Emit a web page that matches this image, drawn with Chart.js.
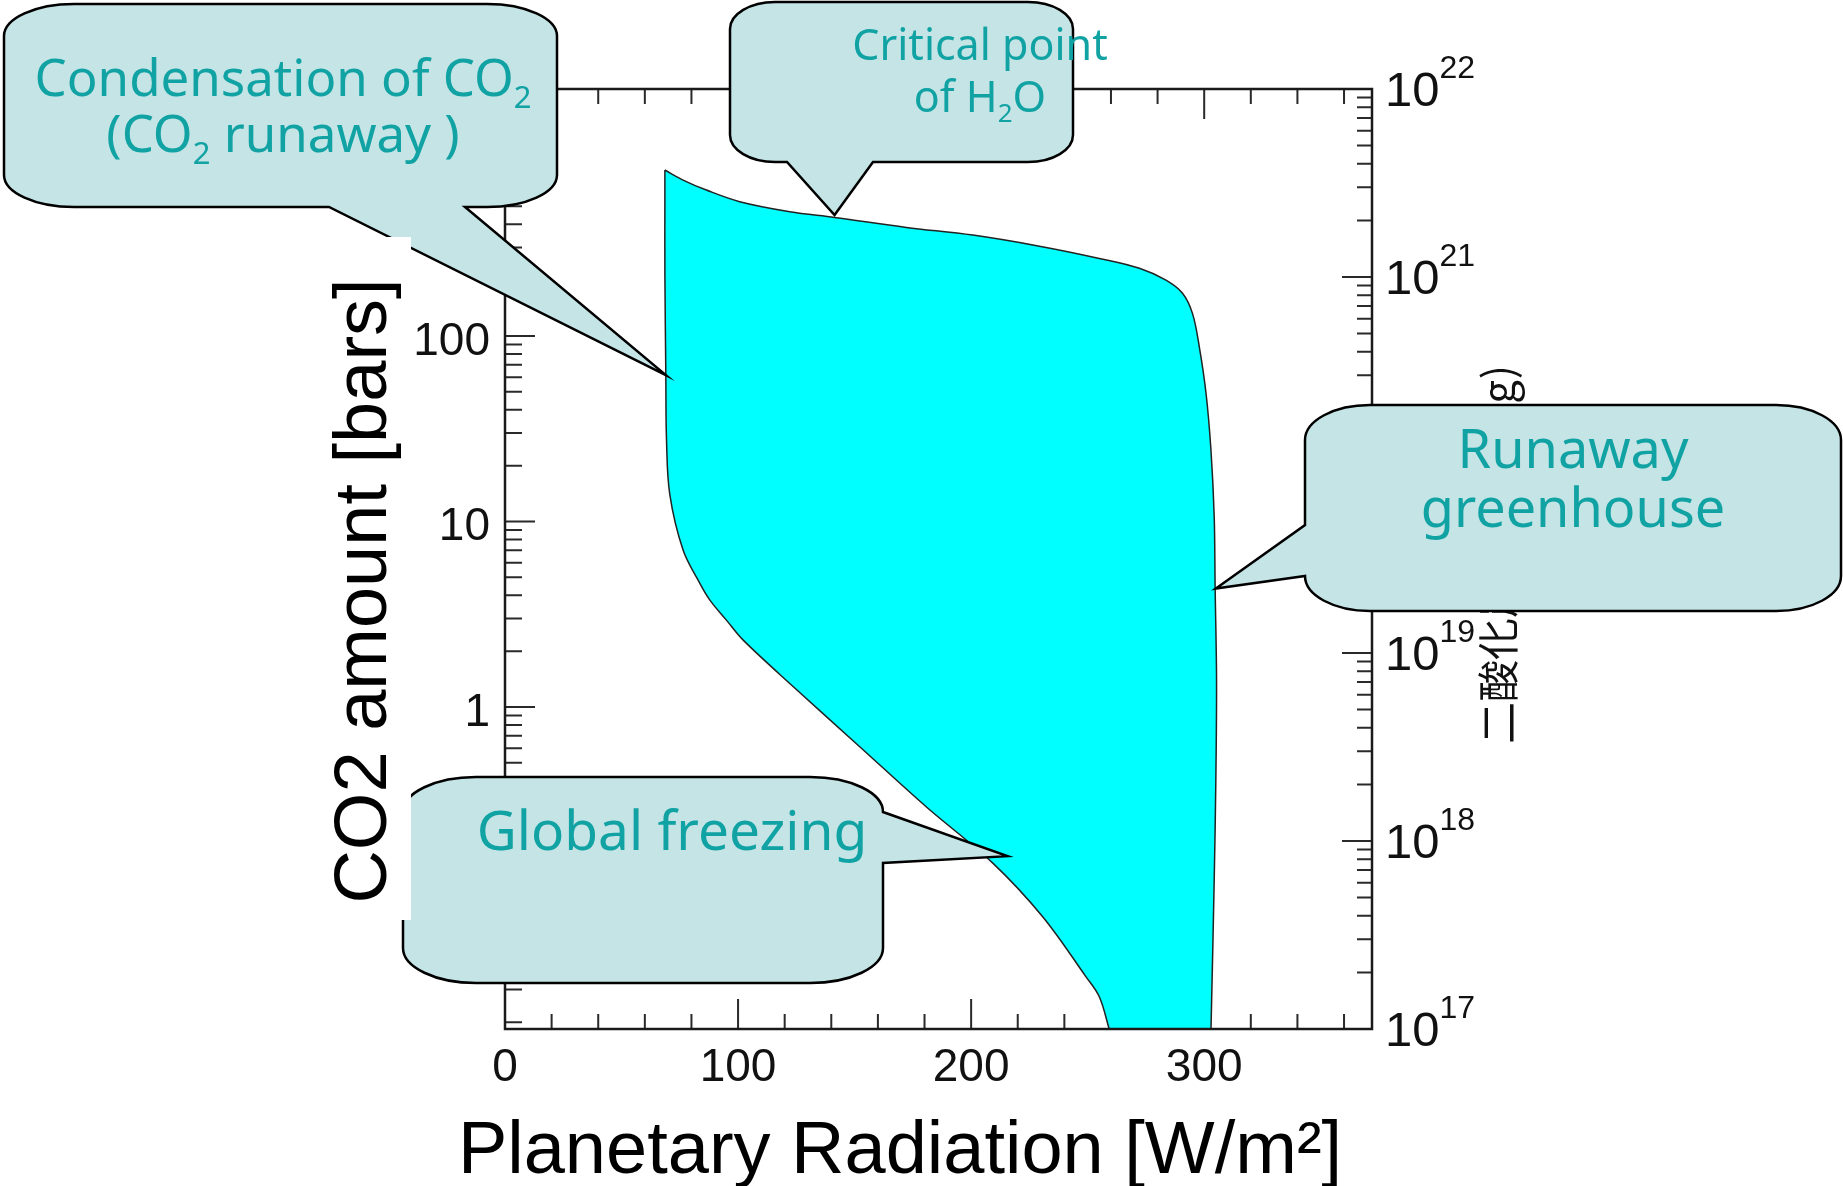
<!DOCTYPE html>
<html>
<head>
<meta charset="utf-8">
<title>CO2 amount vs planetary radiation</title>
<script src="https://cdn.jsdelivr.net/npm/chart.js@4.4.1/dist/chart.umd.min.js"></script>
<style>
  html, body { margin: 0; padding: 0; background: #fff; }
  #chart { display: block; }
</style>
</head>
<body>
<canvas id="chart" width="1843" height="1186"></canvas>
<script>
// Habitable region boundary (x: W/m2, y: bars)
// traced clockwise starting at the upper-left corner
const topEdgeX = [68.6, 76.4, 86.4, 100.7, 122.2, 141.4, 172.2, 200.7, 229.3, 255, 272.2, 283.6, 290.7, 295, 297.9];
const topEdgeY = [785, 693, 612, 530, 468, 436, 385, 350, 305, 262, 232, 200, 170, 132, 87.5];
const rightEdgeX = [300.8, 302.9, 304.3, 304.7, 305.3, 305.0, 304.3, 303.2, 302.9];
const rightEdgeY = [49, 24.3, 10.6, 4.36, 1.4, 0.404, 0.117, 0.0263, 0.0179];
const lowerEdgeX = [259.5, 255, 249.3, 230.7, 209.3, 180.7, 152.2, 123.6, 102.1, 95, 87.9, 83.6, 76.4, 70.7, 69.3, 69.0, 68.6, 68.6, 68.6];
const lowerEdgeY = [0.0179, 0.0274, 0.0351, 0.074, 0.144, 0.29, 0.611, 1.29, 2.30, 2.94, 3.77, 4.64, 7.02, 14, 27.5, 63, 218, 541, 785];

// Axes
const xRange = [0, 372];
const xTicks = [0, 100, 200, 300];
const barRange = [0.01837, 2146];
const barTicks = [0.1, 1, 10, 100, 1000];
const kgRange = [1e17, 1e22];
const kgExponents = [17, 18, 19, 20, 21, 22];

const xTitle = 'Planetary Radiation [W/m²]';
const yTitle = 'CO2 amount [bars]';
const y2Title = '二酸化炭素の量 (kg)';

// Bubble texts ([text, isSubscript] runs per line) and the point (W/m2, bars) each bubble points at
const condensationText = [[['Condensation of CO', 0], ['2', 1]], [['(CO', 0], ['2', 1], [' runaway )', 0]]];
const criticalText = [[['Critical point', 0]], [['of H', 0], ['2', 1], ['O', 0]]];
const runawayText = [[['Runaway', 0]], [['greenhouse', 0]]];
const freezingText = [[['Global freezing', 0]]];
const condensationTip = [69, 61.6];
const criticalTip = [141.4, 449];
const runawayTip = [305, 4.35];
const freezingTip = [215.6, 0.157];

const AXIS_FONT = '"Liberation Sans", Arial, Helvetica, sans-serif';
const NOTE_FONT = '"Noto Sans", "Open Sans", sans-serif';
const CJK_FONT = '"Noto Sans CJK JP", "Noto Sans CJK SC", sans-serif';
const TEAL = '#11a2a3';
const BUBBLE = '#c4e4e6';

// build the closed outline; corners on the bottom axis are repeated
// so the curve smoothing keeps them sharp
const outline = [];
function addEdge(xs, ys, sharpStart, sharpEnd) {
  xs.forEach((v, i) => {
    const p = { x: v, y: ys[i] };
    outline.push(p);
    if ((i === 0 && sharpStart) || (i === xs.length - 1 && sharpEnd)) outline.push({ x: p.x, y: p.y });
  });
}
addEdge(topEdgeX, topEdgeY, false, false);
addEdge(rightEdgeX, rightEdgeY, false, true);
addEdge(lowerEdgeX, lowerEdgeY, true, false);

// bubble layout (pixels)
const notes = [
  { lines: condensationText, tip: condensationTip,
    box: { x0: 4, y0: 4, x1: 557, y1: 207, rx: 70, ry: 32 }, wedge: { side: 'bottom', a: 465, b: 329 },
    text: { cx: 283, base: [96, 152], size: 51 } },
  { lines: criticalText, tip: criticalTip,
    box: { x0: 730, y0: 2, x1: 1073, y1: 162, rx: 45, ry: 27 }, wedge: { side: 'bottom', a: 873, b: 787 },
    text: { cx: 980, base: [60, 112], size: 43 } },
  { lines: runawayText, tip: runawayTip,
    box: { x0: 1305, y0: 405, x1: 1841, y1: 611, rx: 65, ry: 35 }, wedge: { side: 'left', a: 576, b: 525 },
    text: { cx: 1573, base: [468, 527], size: 54 } },
  { lines: freezingText, tip: freezingTip,
    box: { x0: 403, y0: 777, x1: 883, y1: 983, rx: 73, ry: 35 }, wedge: { side: 'right', a: 812, b: 863 },
    text: { cx: 672, base: [850], size: 55 } }
];

// Rounded box with a pointed wedge, drawn clockwise
function bubblePath(ctx, b, w, tx, ty) {
  ctx.beginPath();
  ctx.moveTo(b.x0 + b.rx, b.y0);
  ctx.lineTo(b.x1 - b.rx, b.y0);
  ctx.ellipse(b.x1 - b.rx, b.y0 + b.ry, b.rx, b.ry, 0, -Math.PI / 2, 0);
  if (w.side === 'right') {
    ctx.lineTo(b.x1, w.a); ctx.lineTo(tx, ty); ctx.lineTo(b.x1, w.b);
  }
  ctx.lineTo(b.x1, b.y1 - b.ry);
  ctx.ellipse(b.x1 - b.rx, b.y1 - b.ry, b.rx, b.ry, 0, 0, Math.PI / 2);
  if (w.side === 'bottom') {
    ctx.lineTo(w.a, b.y1); ctx.lineTo(tx, ty); ctx.lineTo(w.b, b.y1);
  }
  ctx.lineTo(b.x0 + b.rx, b.y1);
  ctx.ellipse(b.x0 + b.rx, b.y1 - b.ry, b.rx, b.ry, 0, Math.PI / 2, Math.PI);
  if (w.side === 'left') {
    ctx.lineTo(b.x0, w.a); ctx.lineTo(tx, ty); ctx.lineTo(b.x0, w.b);
  }
  ctx.lineTo(b.x0, b.y0 + b.ry);
  ctx.ellipse(b.x0 + b.rx, b.y0 + b.ry, b.rx, b.ry, 0, Math.PI, Math.PI * 1.5);
  ctx.closePath();
}

// Centered line of text with optional subscript runs
function drawRuns(ctx, runs, cx, baseline, size, color) {
  const subSize = Math.round(size * 0.6);
  let total = 0;
  runs.forEach(([t, sub]) => {
    ctx.font = `${sub ? subSize : size}px ${NOTE_FONT}`;
    total += ctx.measureText(t).width;
  });
  let x = cx - total / 2;
  ctx.fillStyle = color;
  ctx.textAlign = 'left';
  ctx.textBaseline = 'alphabetic';
  runs.forEach(([t, sub]) => {
    ctx.font = `${sub ? subSize : size}px ${NOTE_FONT}`;
    ctx.fillText(t, x, baseline + (sub ? size * 0.24 : 0));
    x += ctx.measureText(t).width;
  });
}

function logMarks(min, max) {
  const marks = [];
  for (let e = Math.floor(Math.log10(min)); e <= Math.ceil(Math.log10(max)); e++) {
    for (let k = 1; k <= 9; k++) {
      const v = k * Math.pow(10, e);
      if (v >= min * 0.999 && v <= max * 1.001) marks.push([v, k === 1]);
    }
  }
  return marks;
}

// Inward tick marks on all four sides (drawn under the filled region)
const tickMarks = {
  id: 'tickMarks',
  beforeDatasetsDraw(chart) {
    const { ctx, chartArea: a, scales: { x, y, y2 } } = chart;
    ctx.save();
    ctx.strokeStyle = '#2a2a2a';
    ctx.lineWidth = 2;
    ctx.beginPath();
    for (let v = 20; v < x.max; v += 20) {
      const px = x.getPixelForValue(v);
      const len = v % 100 === 0 ? 30 : 15;
      ctx.moveTo(px, a.bottom); ctx.lineTo(px, a.bottom - len);
      ctx.moveTo(px, a.top); ctx.lineTo(px, a.top + len);
    }
    logMarks(y.min, y.max).forEach(([v, major]) => {
      const py = y.getPixelForValue(v);
      ctx.moveTo(a.left, py); ctx.lineTo(a.left + (major ? 30 : 17), py);
    });
    logMarks(y2.min, y2.max).forEach(([v, major]) => {
      const py = y2.getPixelForValue(v);
      ctx.moveTo(a.right, py); ctx.lineTo(a.right - (major ? 30 : 15), py);
    });
    ctx.stroke();
    ctx.restore();
  }
};

// Frame, right axis labels and axis titles
const frameAndTitles = {
  id: 'frameAndTitles',
  afterDatasetsDraw(chart) {
    const { ctx, chartArea: a, scales: { y2 } } = chart;
    ctx.save();
    ctx.strokeStyle = '#1a1a1a';
    ctx.lineWidth = 2.5;
    ctx.strokeRect(a.left, a.top, a.right - a.left, a.bottom - a.top);

    // 10^n labels
    ctx.fillStyle = '#111';
    ctx.textAlign = 'left';
    ctx.textBaseline = 'middle';
    kgExponents.forEach(e => {
      const py = y2.getPixelForValue(Math.pow(10, e)) + 3;
      ctx.font = `49px ${AXIS_FONT}`;
      ctx.fillText('10', a.right + 13, py);
      const w = ctx.measureText('10').width;
      ctx.font = `32px ${AXIS_FONT}`;
      ctx.fillText(String(e), a.right + 13 + w, py - 23);
    });

    // right title, reads bottom to top
    ctx.save();
    ctx.translate(1498, 744);
    ctx.rotate(-Math.PI / 2);
    ctx.font = `42px ${CJK_FONT}`;
    ctx.fillStyle = '#111';
    ctx.textAlign = 'left';
    ctx.textBaseline = 'middle';
    ctx.fillText(y2Title, 0, 0);
    ctx.restore();

    // bottom title
    ctx.font = `74px ${AXIS_FONT}`;
    ctx.fillStyle = '#000';
    ctx.textAlign = 'center';
    ctx.textBaseline = 'alphabetic';
    ctx.fillText(xTitle, 900, 1173);
    ctx.restore();
  }
};

// Bubbles on top, then the left title on its white box
const bubbles = {
  id: 'bubbles',
  afterDraw(chart) {
    const { ctx, scales: { x, y } } = chart;
    ctx.save();
    notes.forEach(n => {
      const tx = x.getPixelForValue(n.tip[0]);
      const ty = y.getPixelForValue(n.tip[1]);
      bubblePath(ctx, n.box, n.wedge, tx, ty);
      ctx.fillStyle = BUBBLE;
      ctx.fill();
      ctx.lineWidth = 2.5;
      ctx.strokeStyle = '#000';
      ctx.lineJoin = 'miter';
      ctx.stroke();
      n.lines.forEach((runs, i) => drawRuns(ctx, runs, n.text.cx, n.text.base[i], n.text.size, TEAL));
    });

    ctx.fillStyle = '#fff';
    ctx.fillRect(300, 237, 111, 683);
    ctx.translate(386, 591);
    ctx.rotate(-Math.PI / 2);
    ctx.font = `74px ${AXIS_FONT}`;
    ctx.fillStyle = '#000';
    ctx.textAlign = 'center';
    ctx.textBaseline = 'alphabetic';
    ctx.fillText(yTitle, 0, 0);
    ctx.restore();
  }
};

new Chart(document.getElementById('chart'), {
  type: 'line',
  data: {
    datasets: [{
      data: outline,
      yAxisID: 'y',
      fill: 'shape',
      backgroundColor: '#00ffff',
      borderColor: '#222',
      borderWidth: 1.5,
      pointRadius: 0,
      tension: 0.35
    }]
  },
  options: {
    responsive: false,
    devicePixelRatio: 1,
    animation: false,
    layout: { padding: { top: 89, left: 0, right: 0, bottom: 0 } },
    plugins: { legend: { display: false }, tooltip: { enabled: false } },
    scales: {
      x: {
        type: 'linear',
        min: xRange[0],
        max: xRange[1],
        grid: { display: false, drawTicks: false },
        border: { display: false },
        ticks: { font: { family: AXIS_FONT, size: 46 }, color: '#111', padding: 12, maxRotation: 0 },
        afterBuildTicks: s => { s.ticks = xTicks.map(v => ({ value: v })); },
        afterFit: s => { s.height = 157; }
      },
      y: {
        type: 'logarithmic',
        position: 'left',
        min: barRange[0],
        max: barRange[1],
        grid: { display: false, drawTicks: false },
        border: { display: false },
        ticks: {
          font: { family: AXIS_FONT, size: 46 }, color: '#111', padding: 15, labelOffset: 6,
          callback: v => String(v)
        },
        afterBuildTicks: s => { s.ticks = barTicks.map(v => ({ value: v })); },
        afterFit: s => { s.width = 505; }
      },
      y2: {
        type: 'logarithmic',
        position: 'right',
        min: kgRange[0],
        max: kgRange[1],
        grid: { display: false, drawTicks: false },
        border: { display: false },
        ticks: { display: false },
        afterFit: s => { s.width = 471; }
      }
    }
  },
  plugins: [tickMarks, frameAndTitles, bubbles]
});
</script>
</body>
</html>
